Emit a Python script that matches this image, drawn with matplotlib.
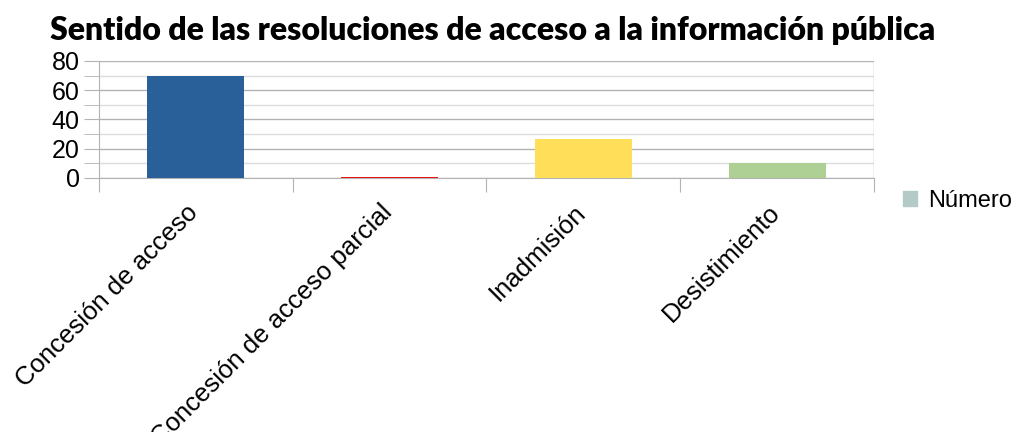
import matplotlib
matplotlib.use("Agg")
import matplotlib.pyplot as plt
from matplotlib.patches import Patch
import numpy as np

categorias = ["Concesión de acceso", "Concesión de acceso parcial", "Inadmisión", "Desistimiento"]
valores = [70, 1, 27, 10]
colores = ["#2a6099", "#ee1111", "#ffde59", "#afd095"]
titulo = "Sentido de las resoluciones de acceso a la información pública"

plt.rcParams['font.family'] = ['Liberation Sans', 'DejaVu Sans']

fig = plt.figure(figsize=(10.2, 4.32), dpi=100)
ax = fig.add_axes([99 / 1020, 1 - 178 / 432, (874 - 99) / 1020, 117 / 432])

x = np.arange(len(categorias))
ax.bar(x, valores, width=0.5, color=colores, zorder=4, linewidth=0, clip_on=False)

ax.set_xlim(-0.5, len(categorias) - 0.5)
ax.set_ylim(0, 80)
ax.set_yticks([0, 20, 40, 60, 80])
ax.set_yticks([10, 30, 50, 70], minor=True)
ax.set_axisbelow(True)
ax.grid(axis='y', which='major', color='#b3b3b3', lw=1)
ax.grid(axis='y', which='minor', color='#dddddd', lw=1)
ax.tick_params(axis='y', which='both', length=11, color='#b3b3b3', labelsize=18, pad=3)

# category boundary ticks on x axis
ax.set_xticks(np.arange(-0.5, len(categorias)), minor=False)
ax.set_xticklabels([])
ax.tick_params(axis='x', which='major', length=10, color='#b3b3b3')
for i, lab in enumerate(categorias):
    ax.annotate(lab, xy=(i, 0), xycoords=('data', 'axes fraction'),
                xytext=(-7, -16), textcoords='offset points',
                rotation=45, ha='right', va='top', fontsize=18.5, rotation_mode='anchor')

for s in ['top', 'right']:
    ax.spines[s].set_visible(False)
ax.spines['left'].set_color('#b3b3b3')
ax.spines['bottom'].set_color('#b3b3b3')
ax.axvline(len(categorias) - 0.5, color='#b3b3b3', lw=1, zorder=1)

fig.text(0.483, 0.93, titulo, ha='center', va='center', fontsize=23,
         fontweight='heavy', family=['Lato', 'DejaVu Sans'])

fig.legend(handles=[Patch(color='#b3cac7', label='Número')], loc='center left',
           bbox_to_anchor=(903 / 1020, 1 - 201 / 432), frameon=False, fontsize=17,
           handlelength=0.6, handleheight=0.6, handletextpad=0.45, borderpad=0,
           borderaxespad=0)

fig.savefig("out.png", dpi=100)
